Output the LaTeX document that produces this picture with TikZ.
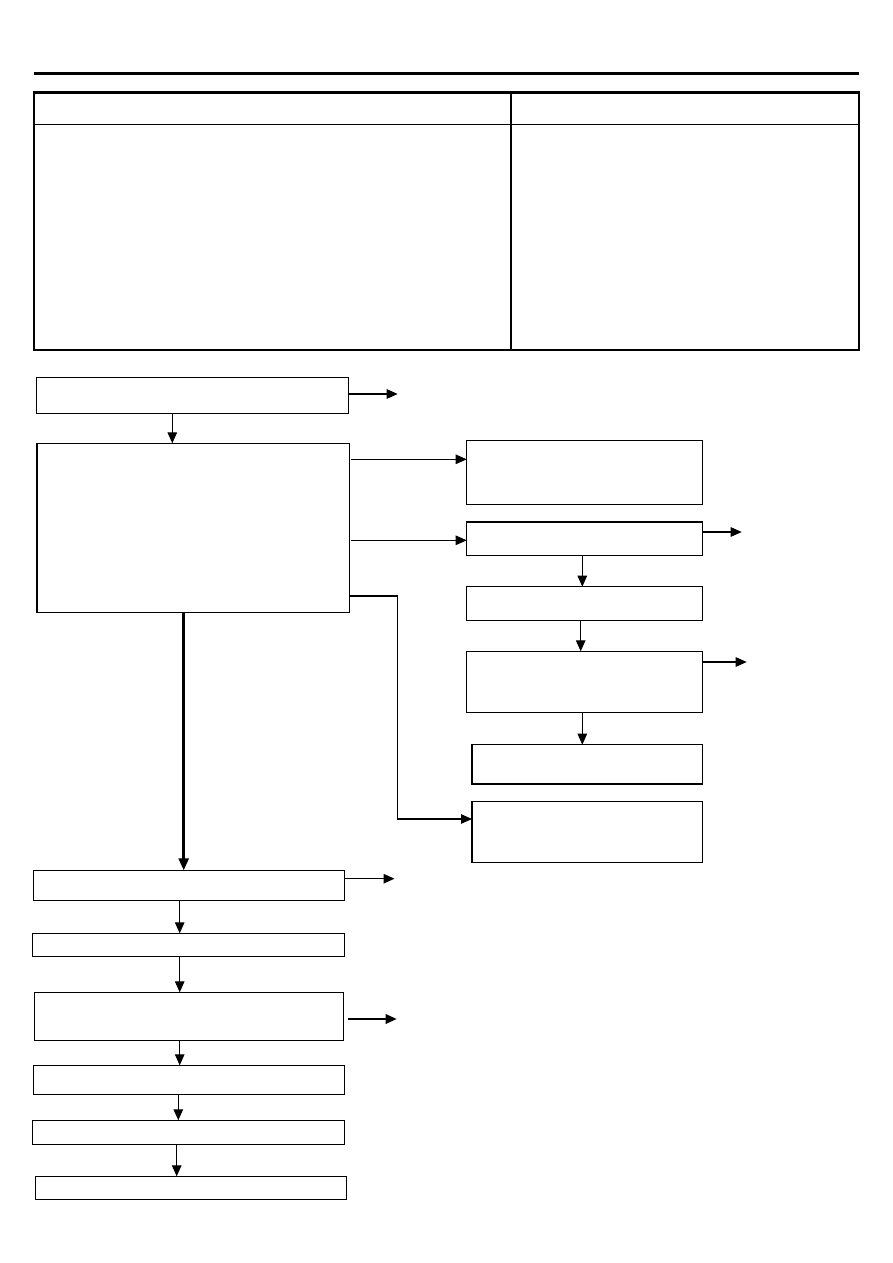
\documentclass[tikz,border=0pt]{standalone}
\usetikzlibrary{arrows.meta}
\begin{document}
\begin{tikzpicture}[x=1pt,y=-1pt,
  box/.style={draw,line width=1.3pt,inner sep=0pt,outer sep=0pt,anchor=north west,rectangle},
  arr/.style={line width=1.1pt,-{Triangle[length=11pt,width=9.5pt]}},
  thickarr/.style={line width=2.6pt,-{Triangle[length=12pt,width=10pt]}}]
\useasboundingbox (0,0) rectangle (893,1263);
% header rule and table
\draw[line width=2.4pt] (34,73.5) -- (859,73.5);
\draw[line width=1.3pt] (34,92) rectangle (859,350);
\draw[line width=2.4pt] (34,92.5) -- (859,92.5);
\draw[line width=1.3pt] (34,124.5) -- (859,124.5);
\draw[line width=1.3pt] (511,92) -- (511,350);
% left column boxes
\node[box,minimum width=312.5pt,minimum height=36.5pt] (B1) at (36.3,377.3) {};
\node[box,minimum width=312.3pt,minimum height=169pt] (B2) at (37,443.3) {};
\node[box,minimum width=311pt,minimum height=30pt] (D1) at (33.3,870.3) {};
\node[box,minimum width=312pt,minimum height=23pt] (D2) at (32.3,933.3) {};
\node[box,minimum width=309pt,minimum height=48pt] (D3) at (34.3,992.3) {};
\node[box,minimum width=311pt,minimum height=29pt] (D4) at (33.3,1065.3) {};
\node[box,minimum width=312pt,minimum height=24pt] (D5) at (32.3,1120.3) {};
\node[box,minimum width=311pt,minimum height=23pt] (D6) at (35.3,1176.3) {};
% right column boxes
\node[box,minimum width=235.6pt,minimum height=64pt] (C1) at (466.7,440.3) {};
\node[box,minimum width=235.6pt,minimum height=33.3pt] (C2) at (466.7,522) {};
\node[box,minimum width=235.6pt,minimum height=33.6pt] (C3) at (466.7,586.7) {};
\node[box,minimum width=235.6pt,minimum height=61pt] (C4) at (466.7,651.3) {};
\node[box,minimum width=230.3pt,minimum height=39.3pt] (C5) at (472,744.7) {};
\node[box,minimum width=230.3pt,minimum height=61pt] (C6) at (472,801.3) {};
% free ends
\coordinate (oB1) at (397.7,394);
\coordinate (oC2) at (741.7,532);
\coordinate (oC4) at (746.7,662);
\coordinate (oD1) at (394.5,878.7);
\coordinate (oD3a) at (348.3,1019);
\coordinate (oD3) at (396.7,1019);
\coordinate (bend1) at (397.3,596);
% vertical arrows
\draw[arr] (172.3,0 |- B1.south) -- (172.3,0 |- B2.north);
\draw[thickarr] (183.7,0 |- B2.south) -- (183.7,0 |- D1.north);
\draw[arr] (179.7,0 |- D1.south) -- (179.7,0 |- D2.north);
\draw[arr] (179.7,0 |- D2.south) -- (179.7,0 |- D3.north);
\draw[arr] (179.7,0 |- D3.south) -- (179.7,0 |- D4.north);
\draw[arr] (178.3,0 |- D4.south) -- (178.3,0 |- D5.north);
\draw[arr] (176.7,0 |- D5.south) -- (176.7,0 |- D6.north);
\draw[arr] (582.3,0 |- C2.south) -- (582.3,0 |- C3.north);
\draw[arr] (580.7,0 |- C3.south) -- (580.7,0 |- C4.north);
\draw[arr] (582.3,0 |- C4.south) -- (582.3,0 |- C5.north);
% horizontal arrows
\draw[arr] (B1.east |- oB1) -- (oB1);
\draw[arr] (351,459.3) -- (C1.west |- 0,459.3);
\draw[arr] (351,540.3) -- (C2.west |- 0,540.3);
\draw[arr] (C2.east |- oC2) -- (oC2);
\draw[arr] (C4.east |- oC4) -- (oC4);
\draw[arr] (D1.east |- oD1) -- (oD1);
\draw[arr,line width=1.8pt] (oD3a) -- (oD3);
\draw[arr] (B2.east |- bend1) -- (bend1) |- (C6.west |- 0,819);
\end{tikzpicture}
\end{document}
